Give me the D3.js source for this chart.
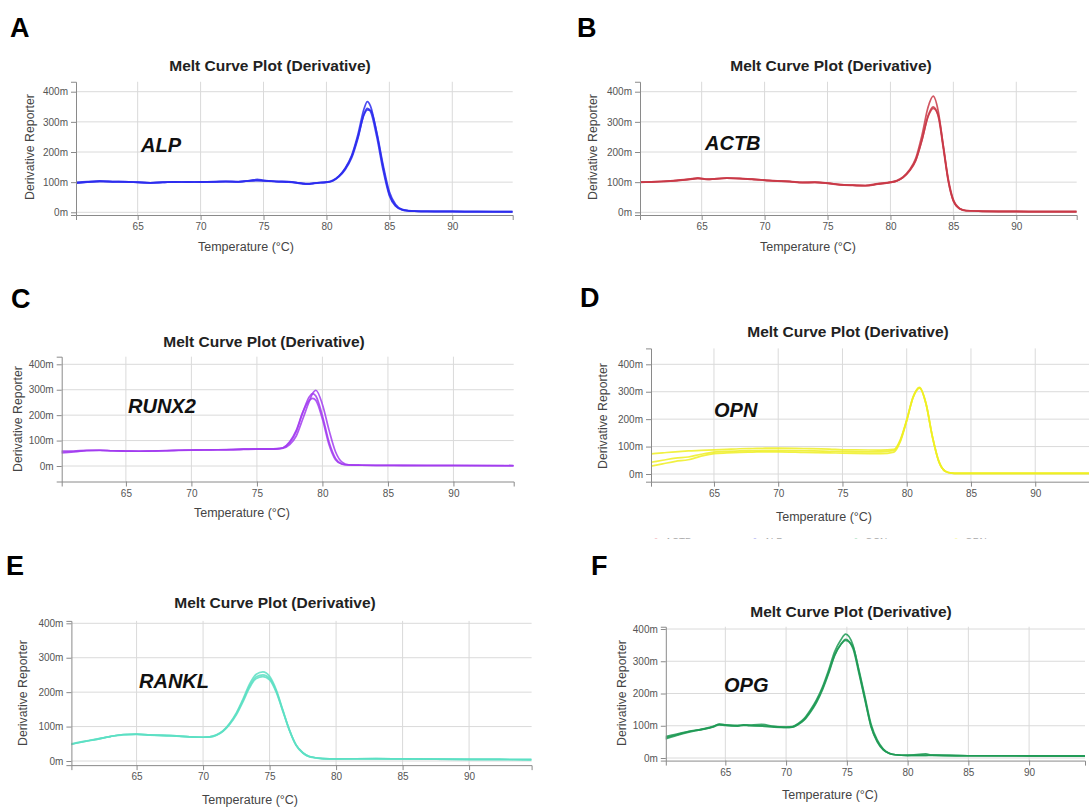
<!DOCTYPE html>
<html><head><meta charset="utf-8">
<script src="https://cdn.jsdelivr.net/npm/d3@7"></script>
<style>
body{margin:0;background:#fff;}
svg{display:block;font-family:"Liberation Sans",Arial,Helvetica,sans-serif;}
</style></head><body>
<svg id="chart" width="1089" height="807"></svg>
<script>
// ---------- tick labels ----------
const xTickValues = [65, 70, 75, 80, 85, 90];
const yTickValues = [0, 100, 200, 300, 400];
const chartTitle = "Melt Curve Plot (Derivative)";
const xAxisTitle = "Temperature (°C)";
const yAxisTitle = "Derivative Reporter";

// ---------- A: ALP ----------
const alpTemps = [60,61,62,63,64,65,66,67,68,69,70,71,72,73,74,74.5,75,76,77,78,78.5,79,79.5,80,80.5,81,81.5,82,82.5,83,83.25,83.5,84,84.5,85,85.5,86,86.5,87,88,90,92,94.8];
const alpR1 = [97,101,104,101,102,99,98,99,101,100,101,101,103,101,106,109,106,103,102,95,93,96,99,100,106,121,147,188,258,345,367,352,262,150,60,22,9,5,4,3,3,2,2];
const alpR2 = [99,102,103,102,101,100,98,100,100,101,100,102,102,102,104,105,105,102,100,97,95,97,98,99,104,118,142,180,245,328,345,335,250,140,55,20,8,5,4,3,2,2,1];
const alpR3 = [96,100,102,102,101,99,97,99,101,100,101,101,102,101,105,106,104,102,101,96,94,96,98,100,105,120,145,185,250,325,340,338,265,158,68,26,10,6,4,3,3,2,2];

// ---------- B: ACTB ----------
const actbTemps = [60,61,62,63,64,64.7,65.5,66,67,68,69,70,71,72,73,74,75,76,77,78,79,80,80.5,81,81.5,82,82.5,83,83.4,83.8,84.2,84.6,85,85.5,86,87,88,90,92,94.8];
const actbR1 = [100,101,103,106,110,114,110,111,114,113,110,107,104,103,99,100,97,92,90,89,95,100,105,117,140,178,255,350,385,335,220,105,38,12,6,4,3,3,2,2];
const actbR2 = [99,101,103,105,109,113,109,110,113,112,109,106,104,102,98,99,97,92,90,88,94,99,104,115,136,170,238,322,350,318,212,102,38,12,5,4,3,2,2,2];
const actbR3 = [100,100,102,105,109,112,109,111,113,112,110,107,103,102,99,99,96,91,89,88,93,99,104,116,138,172,240,318,345,322,220,110,42,13,6,4,3,3,2,2];

// ---------- C: RUNX2 ----------
const runxTemps = [60,61,62,63,64,65,66,67,68,69,70,71,72,73,74,75,76,76.5,77,77.5,78,78.5,79,79.25,79.5,80,80.5,81,81.5,82,83,85,88,90,94.6];
const runxR1 = [59,59,62,62,60,59,58,59,60,62,63,63,64,64,66,66,66,67,70,84,118,185,255,285,298,242,142,56,15,5,3,3,2,2,2];
const runxR2 = [55,57,61,62,60,59,58,59,61,62,63,64,64,65,66,67,67,68,72,92,135,210,272,285,275,198,95,30,8,4,3,2,2,2,1];
const runxR3 = [51,55,60,61,60,58,58,59,60,61,62,63,64,64,65,66,66,67,72,95,140,212,258,266,258,185,85,25,7,4,3,2,2,2,1];

// ---------- D: OPN ----------
const opnTemps = [60,61,62,63,64,65,66,67,68,69,70,72,74,75,76,78,79,79.5,80,80.5,81,81.5,82,82.5,83,83.5,84,86,90,94.8];
const opnR1 = [73,77,81,84,86,88,90,92,93,94,94,93,91,88,88,87,90,125,198,282,316,258,137,46,10,3,2,2,2,2];
const opnR2 = [42,50,58,62,72,80,83,84,85,86,86,85,83,82,81,81,86,122,196,280,314,256,136,46,10,3,2,2,2,2];
const opnR3 = [28,37,46,52,65,74,77,79,80,81,81,79,77,76,75,74,80,118,194,279,313,255,135,45,10,3,2,2,2,2];

// ---------- E: RANKL ----------
const rankTemps = [60,61,62,63,64,65,66,67,68,69,70,70.5,71,71.5,72,72.5,73,73.5,74,74.5,75,75.5,76,76.5,77,77.5,78,79,80,83,85,90,94.7];
const rankR1 = [48,56,63,71,77,78,76,75,73,70,69,70,76,88,110,140,180,224,252,259,246,207,148,90,46,24,13,7,6,7,6,5,4];
const rankR2 = [48,56,63,71,77,78,76,74,73,70,69,70,75,87,108,137,176,218,245,250,240,203,146,89,46,24,13,7,6,7,6,5,4];
const rankR3 = [49,57,64,71,76,77,75,74,72,70,69,70,75,86,106,134,172,213,240,245,236,200,144,88,45,23,12,7,6,6,6,5,4];

// ---------- F: OPG ----------
const opgTemps = [60,61,62,63,64,64.5,65,66,66.5,67,68,69,70,70.5,71,71.5,72,72.5,73,73.5,74,74.5,74.9,75.5,76,76.5,77,77.5,78,78.5,79,80,81.5,82,85,90,94.6];
const opgR1 = [62,72,82,88,97,105,102,100,103,101,100,97,96,97,107,123,149,180,221,273,330,366,384,350,268,182,98,52,26,14,10,8,8,9,7,7,7];
const opgR2 = [58,70,80,88,96,103,101,99,101,102,104,98,95,96,104,118,142,172,212,262,318,352,368,340,262,178,96,50,25,14,10,8,13,9,7,7,6];
const opgR3 = [66,74,83,89,98,104,103,101,102,100,99,96,95,96,105,120,145,176,216,266,320,352,365,345,272,188,104,56,28,15,10,8,8,8,7,6,6];

// ---------- D legend (cut off in source) ----------
const legendNames = ["ACTB", "ALP", "OCN", "OPN"];

// ---------- panel layout (positions / styles only) ----------
const panels = [
  {letter:"A", gene:"ALP",   color:"#2b2bee", temps:alpTemps,  reps:[alpR1,alpR2,alpR3],
   left:76, right:512.7, xDom:[60.1,94.8], y0:212.3, y400:91.7, yDom:[-9,433],
   letterXY:[10,37], titleXY:[270,71], geneXY:[141,152], yTitleXY:[30,147], xTitleXY:[246,247]},
  {letter:"B", gene:"ACTB",  color:"#c93846", temps:actbTemps, reps:[actbR1,actbR2,actbR3],
   left:640, right:1076.7, xDom:[60.1,94.8], y0:212.3, y400:91.7, yDom:[-9,433],
   letterXY:[577,37], titleXY:[831,71], geneXY:[705,150], yTitleXY:[593,147], xTitleXY:[808,247]},
  {letter:"C", gene:"RUNX2", color:"#a23cf0", temps:runxTemps, reps:[runxR1,runxR2,runxR3],
   left:61.7, right:513.7, xDom:[60.1,94.6], y0:466, y400:364.3, yDom:[-61,430],
   letterXY:[11,308], titleXY:[264,347], geneXY:[128,413], yTitleXY:[18,419], xTitleXY:[242,513]},
  {letter:"D", gene:"OPN",   color:"#eeee22", temps:opnTemps,  reps:[opnR1,opnR2,opnR3],
   left:651, right:1096.9, xDom:[60.1,94.8], y0:474, y400:364.3, yDom:[-28,458],
   letterXY:[580,307], titleXY:[848,337], geneXY:[714,417], yTitleXY:[603,416], xTitleXY:[824,517]},
  {letter:"E", gene:"RANKL", color:"#5cdfc3", temps:rankTemps, reps:[rankR1,rankR2,rankR3],
   left:71.4, right:531.6, xDom:[60.1,94.7], y0:761, y400:623.3, yDom:[-12,407],
   letterXY:[6,575], titleXY:[275,608], geneXY:[139,688], yTitleXY:[23,693], xTitleXY:[250,800]},
  {letter:"F", gene:"OPG",   color:"#1f9a55", temps:opgTemps,  reps:[opgR1,opgR2,opgR3],
   left:665.8, right:1085, xDom:[60.1,94.6], y0:758, y400:629, yDom:[-8,407],
   letterXY:[591,575], titleXY:[851,617], geneXY:[724,692], yTitleXY:[622,693], xTitleXY:[830,795]}
];

const svg = d3.select("#chart");
const defs = svg.append("defs");

panels.forEach((p, i) => {
  const g = svg.append("g");
  const k = (p.y0 - p.y400) / 400;
  const x = d3.scaleLinear().domain(p.xDom).range([p.left, p.right]);
  const y = d3.scaleLinear().domain(p.yDom).range([p.y0 - p.yDom[0] * k, p.y0 - p.yDom[1] * k]);
  const [xb, xt] = [y.range()[0], y.range()[1]];

  defs.append("clipPath").attr("id", "clip" + i)
    .append("rect").attr("x", p.left).attr("y", xt - 2)
    .attr("width", p.right - p.left).attr("height", xb - xt + 2);

  // gridlines
  g.append("g").selectAll("line").data(yTickValues).join("line")
    .attr("x1", p.left).attr("x2", p.right)
    .attr("y1", d => y(d)).attr("y2", d => y(d))
    .attr("stroke", "#dadada").attr("stroke-width", 1);
  g.append("g").selectAll("line").data(xTickValues).join("line")
    .attr("x1", d => x(d)).attr("x2", d => x(d))
    .attr("y1", xt).attr("y2", xb)
    .attr("stroke", "#dadada").attr("stroke-width", 1);

  // curves
  const line = d3.line().curve(d3.curveMonotoneX)
    .x((d, j) => x(p.temps[j])).y(d => y(d));
  g.append("g").attr("clip-path", `url(#clip${i})`)
    .selectAll("path").data(p.reps).join("path")
    .attr("d", line).attr("fill", "none")
    .attr("stroke", p.color).attr("stroke-width", 1.7)
    .attr("stroke-opacity", 0.85).attr("stroke-linejoin", "round");

  // axes
  const xAxis = d3.axisBottom(x).tickValues(xTickValues).tickSize(5).tickPadding(3);
  const yAxis = d3.axisLeft(y).tickValues(yTickValues).tickSize(5).tickPadding(3).tickFormat(d => d + "m");
  const gx = g.append("g").attr("transform", `translate(0,${xb})`).call(xAxis);
  const gy = g.append("g").attr("transform", `translate(${p.left},0)`).call(yAxis);
  [gx, gy].forEach(a => {
    a.select(".domain").attr("stroke", "#8a8a8a");
    a.selectAll(".tick line").attr("stroke", "#8a8a8a");
    a.selectAll(".tick text").attr("fill", "#555").attr("font-size", 10)
      .attr("font-family", '"Liberation Sans",Arial,sans-serif');
  });

  // texts
  g.append("text").attr("x", p.letterXY[0]).attr("y", p.letterXY[1])
    .attr("font-size", 27).attr("font-weight", "bold").attr("fill", "#000").text(p.letter);
  g.append("text").attr("x", p.titleXY[0]).attr("y", p.titleXY[1])
    .attr("text-anchor", "middle").attr("font-size", 15.5).attr("font-weight", "bold")
    .attr("fill", "#222").text(chartTitle);
  g.append("text").attr("x", p.geneXY[0]).attr("y", p.geneXY[1])
    .attr("font-size", 20).attr("font-weight", "bold").attr("font-style", "italic")
    .attr("fill", "#111").text(p.gene);
  g.append("text").attr("transform", `translate(${p.yTitleXY[0]},${p.yTitleXY[1]}) rotate(-90)`)
    .attr("text-anchor", "middle").attr("dominant-baseline", "central")
    .attr("font-size", 12.3).attr("fill", "#444").text(yAxisTitle);
  g.append("text").attr("x", p.xTitleXY[0]).attr("y", p.xTitleXY[1])
    .attr("text-anchor", "middle").attr("dominant-baseline", "central")
    .attr("font-size", 12.5).attr("fill", "#444").text(xAxisTitle);
});

// partially visible legend under panel D
const legColors = ["#e04050", "#3030e0", "#30b060", "#eeee22"];
const legX = [656, 755, 856, 956];
defs.append("clipPath").attr("id", "legclip").append("rect")
  .attr("x", 600).attr("y", 530).attr("width", 489).attr("height", 9);
const leg = svg.append("g").attr("clip-path", "url(#legclip)").attr("opacity", 0.7);
legendNames.forEach((n, j) => {
  leg.append("line").attr("x1", legX[j] - 5).attr("x2", legX[j] + 5)
    .attr("y1", 541).attr("y2", 541).attr("stroke", legColors[j]).attr("stroke-width", 2);
  leg.append("circle").attr("cx", legX[j]).attr("cy", 541).attr("r", 2.5).attr("fill", legColors[j]);
  leg.append("text").attr("x", legX[j] + 9).attr("y", 546).attr("font-size", 10)
    .attr("fill", "#888").text(n);
});
</script>
</body></html>
